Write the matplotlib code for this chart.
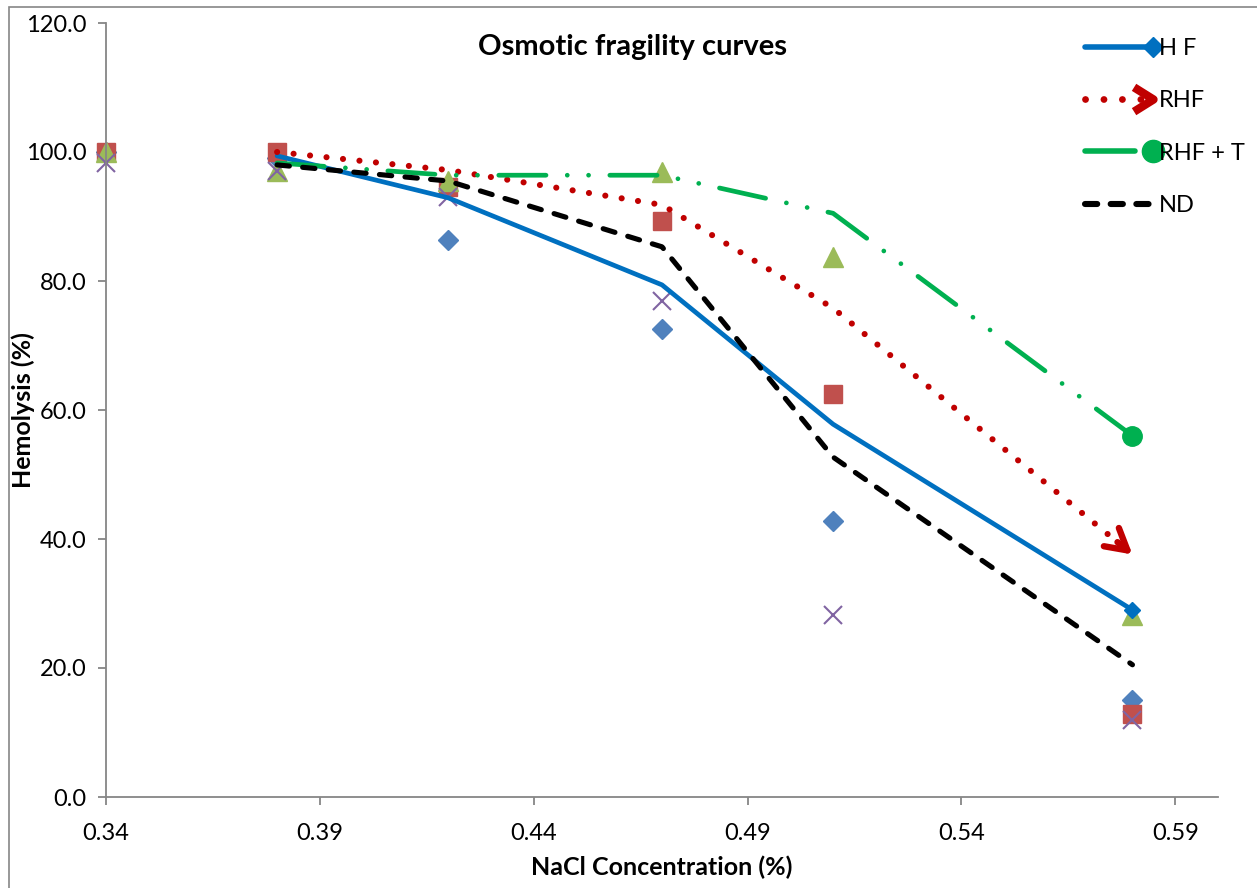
import matplotlib
matplotlib.use("Agg")
import matplotlib.pyplot as plt
from matplotlib.lines import Line2D
from matplotlib.legend_handler import HandlerLine2D
from matplotlib.path import Path
from matplotlib.patches import Rectangle

plt.rcParams['font.family'] = ['Lato', 'DejaVu Sans']

# ---- data ----
nacl = [0.34, 0.38, 0.42, 0.47, 0.51, 0.58]
pts_diamond = [100.0, 99.0, 86.3, 72.6, 42.8, 15.0]
pts_square = [100.0, 100.0, 94.6, 89.3, 62.5, 12.9]
pts_triangle = [100.0, 97.0, 95.5, 96.9, 83.7, 28.2]
pts_x = [98.3, 97.0, 93.0, 76.9, 28.2, 11.9]

line_x = [0.38, 0.42, 0.47, 0.51, 0.58]
hf = [99.4, 92.9, 79.4, 57.8, 29.0]
rhf = [100.0, 97.2, 91.8, 75.8, 37.6]
rhf_t = [98.3, 96.4, 96.4, 90.5, 56.0]
nd = [98.0, 95.5, 85.3, 52.7, 20.5]

series_names = ['H F', 'RHF', 'RHF + T', 'ND']
xticks = [0.34, 0.39, 0.44, 0.49, 0.54, 0.59]
yticks = [0, 20, 40, 60, 80, 100, 120]

W, H = 1257, 888
fig = plt.figure(figsize=(W / 100, H / 100), dpi=100)
ax = fig.add_axes([106 / W, 1 - 797 / H, (1218 - 106) / W, (797 - 23) / H])

# chart border (left/top visible)
fig.patches.append(Rectangle((9 / W, -0.05), 1.2, 1 - 7 / H + 0.05, transform=fig.transFigure,
                             fill=False, edgecolor='#868686', lw=1.2))

# scatter series (markers only)
ax.plot(nacl, pts_diamond, linestyle='None', marker='D', ms=10.5, color='#4F81BD', zorder=2, clip_on=False)
ax.plot(nacl, pts_square, linestyle='None', marker='s', ms=13.5, color='#C0504D', zorder=2, clip_on=False)
ax.plot(nacl, pts_triangle, linestyle='None', marker='^', ms=14, color='#9BBB59', zorder=2, clip_on=False)
ax.plot(nacl, pts_x, linestyle='None', marker='x', ms=13, mew=1.5, color='#8064A2', zorder=2, clip_on=False)

LW = 3.4
c_hf, c_rhf, c_t, c_nd = '#0070C0', '#C00000', '#00B050', '#000000'
rhf_style = (0, (0.01, 2.7))
t_style = (0, (10, 4.5, 0.01, 4.5, 0.01, 4.5))
nd_style = (0, (2.4, 2.6))

ax.plot(line_x, hf, color=c_hf, lw=LW, solid_capstyle='round', zorder=3)
ax.plot(line_x[-1:], hf[-1:], linestyle='None', marker='D', ms=8, color=c_hf, zorder=4)

ax.plot(line_x[:-1] + [line_x[-2] + 0.93 * (line_x[-1] - line_x[-2])],
        rhf[:-1] + [rhf[-2] + 0.93 * (rhf[-1] - rhf[-2])],
        color=c_rhf, lw=LW + 1.0, linestyle=rhf_style, dash_capstyle='round', zorder=3)
ax.annotate('', xy=(line_x[-1], rhf[-1]),
            xytext=(line_x[-2] + 0.95 * (line_x[-1] - line_x[-2]), rhf[-2] + 0.95 * (rhf[-1] - rhf[-2])),
            arrowprops=dict(arrowstyle='->,head_length=1.5,head_width=0.85', color=c_rhf, lw=LW + 1.2,
                            capstyle='round', joinstyle='round', shrinkA=0, shrinkB=0), zorder=4)

ax.plot(line_x, rhf_t, color=c_t, lw=LW, linestyle=t_style, dash_capstyle='round', zorder=3)
ax.plot(line_x[-1:], rhf_t[-1:], linestyle='None', marker='o', ms=14, color=c_t, zorder=4)

ax.plot(line_x, nd, color=c_nd, lw=LW + 0.3, linestyle=nd_style, dash_capstyle='round', zorder=3)

# axes styling
ax.set_xlim(0.34, 0.60)
ax.set_ylim(0, 120)
ax.set_xticks(xticks)
ax.set_xticklabels([f'{t:.2f}' for t in xticks])
ax.set_yticks(yticks)
ax.set_yticklabels([f'{t:.1f}' for t in yticks])
for s in ['top', 'right']:
    ax.spines[s].set_visible(False)
for s in ['left', 'bottom']:
    ax.spines[s].set_color('#868686')
    ax.spines[s].set_linewidth(1.3)
ax.tick_params(axis='both', direction='out', length=6, width=1.3, color='#868686',
               labelsize=17, labelcolor='black')
ax.tick_params(axis='x', pad=13)
ax.tick_params(axis='y', pad=8)

ax.set_xlabel('NaCl Concentration (%)', fontsize=18, fontweight='bold', labelpad=8)
ax.set_ylabel('Hemolysis (%)', fontsize=18, fontweight='bold')
ax.yaxis.set_label_coords((35 - 106) / (1218 - 106), 0.5)
fig.text(632 / W, 1 - 47 / H, 'Osmotic fragility curves', ha='center', va='center',
         fontsize=21, fontweight='bold')


# legend with end markers
class EndMarkerHandler(HandlerLine2D):
    def create_artists(self, legend, orig_handle, xdescent, ydescent, width, height, fontsize, trans):
        y = height / 2 - ydescent
        x0, x1 = -xdescent, width - xdescent
        line = Line2D([x0, x1], [y, y])
        self.update_prop(line, orig_handle, legend)
        line.set_marker('None')
        m = Line2D([x1], [y])
        self.update_prop(m, orig_handle, legend)
        m.set_linestyle('None')
        line.set_transform(trans)
        m.set_transform(trans)
        return [line, m]


chevron = Path([(-1.6, 1), (0, 0), (-1.6, -1)], [Path.MOVETO, Path.LINETO, Path.LINETO])
handles = [
    Line2D([], [], color=c_hf, lw=LW + 0.6, marker='D', ms=10, solid_capstyle='round'),
    Line2D([], [], color=c_rhf, lw=LW + 1.5, linestyle=rhf_style, dash_capstyle='round',
           marker=chevron, ms=28, mew=6, mfc='none', mec=c_rhf),
    Line2D([], [], color=c_t, lw=LW + 0.6, linestyle=(0, (9, 3.5)), dash_capstyle='round',
           marker='o', ms=16),
    Line2D([], [], color=c_nd, lw=LW + 1.0, linestyle=(0, (2.0, 2.2)), dash_capstyle='round'),
]
leg = fig.legend(handles, series_names, loc='upper left', bbox_to_anchor=(1066 / W, 1 - 19 / H),
                 frameon=False, fontsize=17, handlelength=2.9, handletextpad=0.25, labelspacing=1.33,
                 handler_map={Line2D: EndMarkerHandler()}, borderpad=0.3)

fig.savefig('out.png', dpi=100)
